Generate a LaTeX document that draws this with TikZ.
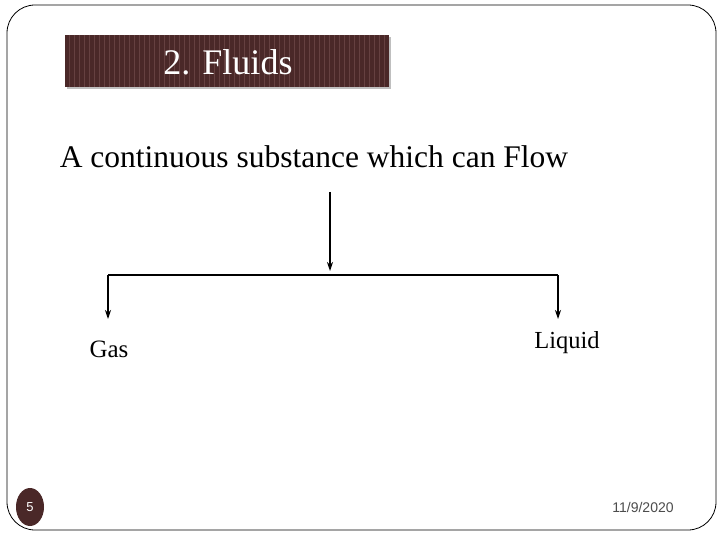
\documentclass[tikz,border=0pt]{standalone}
\usepackage{fontspec}
\usetikzlibrary{arrows.meta}
\setmainfont{Liberation Serif}
\newfontfamily\sansf{Liberation Sans}
\definecolor{brn}{HTML}{4A2828}
\definecolor{brnl}{HTML}{654040}
\begin{document}
\begin{tikzpicture}[x=1pt,y=-1pt,
  lbl/.style={inner sep=0pt,anchor=center},
  arr/.style={-{Stealth[length=9pt,width=6pt]},line width=1.1pt}]
\useasboundingbox (0,0) rectangle (720,540);
\fill[white] (0,0) rectangle (720,540);
\draw[line width=0.8pt,rounded corners=28pt] (7,5) rectangle (716,530);
\fill[black!25] (67,37) rectangle (391,89);
\fill[brn] (65,35) rectangle (389,87);
\foreach \x in {69,74,...,387} \draw[brnl,line width=0.6pt] (\x,35) -- (\x,87);
\node[lbl,text=white,font=\fontsize{36}{36}\selectfont] (title) at (228,62) {2. Fluids};
\node[lbl,font=\fontsize{31.5}{32}\selectfont] (main) at (314,157) {A continuous substance which can Flow};
\coordinate (top) at (330,192);
\coordinate (mid) at (330,271);
\coordinate (hl) at (108,275);
\coordinate (hr) at (558,275);
\coordinate (gl) at (108,319);
\coordinate (gr) at (558,319);
\draw[arr] (top) -- (mid);
\draw[line width=1.1pt] (hl) -- (hr);
\draw[arr] (hl) -- (gl);
\draw[arr] (hr) -- (gr);
\node[lbl,font=\fontsize{25}{25}\selectfont] (gas) at (109,349) {Gas};
\node[lbl,font=\fontsize{24.5}{25}\selectfont] (liq) at (567,343) {Liquid};
\fill[brn] (30,507) ellipse (14 and 19);
\node[lbl,text=white,font=\sansf\fontsize{13}{13}\selectfont] (num) at (30,507) {5};
\node[lbl,text=black!70,font=\sansf\fontsize{14}{14}\selectfont] (date) at (643,507) {11/9/2020};
\end{tikzpicture}
\end{document}
